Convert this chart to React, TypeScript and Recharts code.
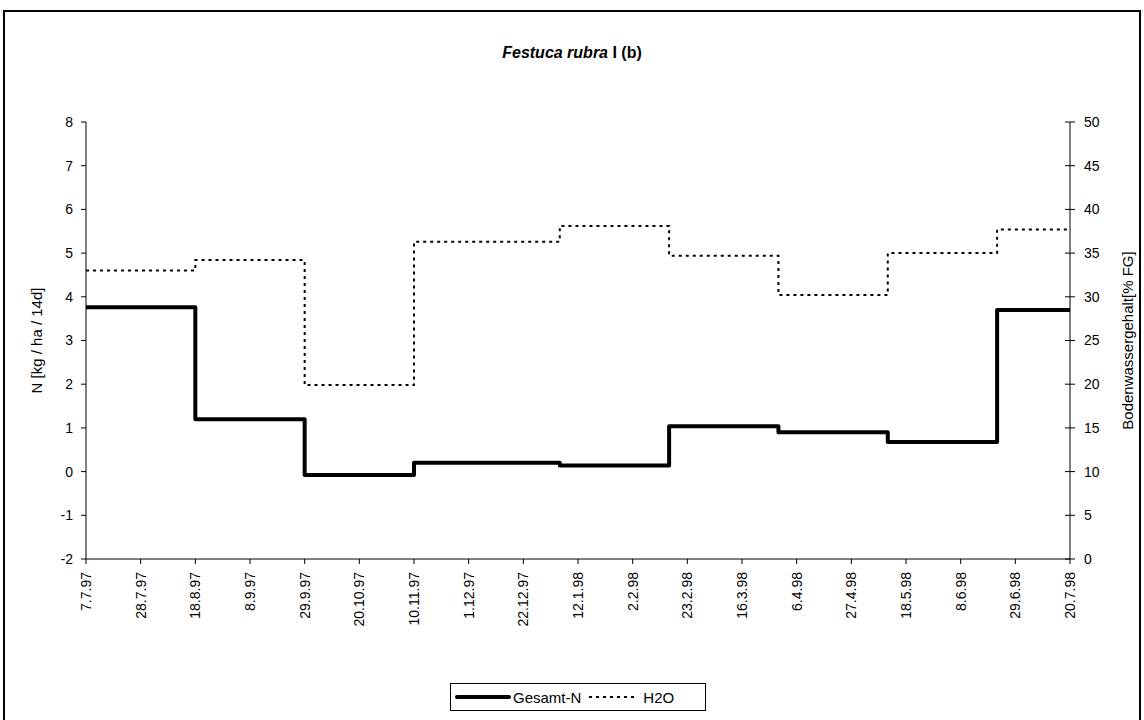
import { Line, LineChart, XAxis, YAxis, Label } from "recharts";

// x axis tick dates (every 3 weeks)
const tickDates = [
  "7.7.97", "28.7.97", "18.8.97", "8.9.97", "29.9.97", "20.10.97", "10.11.97",
  "1.12.97", "22.12.97", "12.1.98", "2.2.98", "23.2.98", "16.3.98", "6.4.98",
  "27.4.98", "18.5.98", "8.6.98", "29.6.98", "20.7.98",
];

// start dates of the sampling periods, last entry = end of the last period
const stepDates = [
  "7.7.97", "18.8.97", "29.9.97", "10.11.97", "5.1.98", "16.2.98", "30.3.98",
  "11.5.98", "22.6.98", "20.7.98",
];

const gesamtN = [3.76, 1.2, -0.08, 0.2, 0.14, 1.04, 0.9, 0.68, 3.7];
const h2o = [33.0, 34.2, 19.9, 36.3, 38.1, 34.7, 30.2, 35.0, 37.7];

const leftTicks = [-2, -1, 0, 1, 2, 3, 4, 5, 6, 7, 8];
const rightTicks = [0, 5, 10, 15, 20, 25, 30, 35, 40, 45, 50];

const FONT = "'Liberation Sans', Arial, sans-serif";
const TICK_FS = 14;

function dayOf(s: string): number {
  const [d, m, y] = s.split(".").map(Number);
  return Date.UTC(1900 + y, m - 1, d) / 86400000;
}

const base = dayOf(tickDates[0]);
const tickDays = tickDates.map((t) => dayOf(t) - base);
const labelByDay: Record<number, string> = {};
tickDays.forEach((d, i) => (labelByDay[d] = tickDates[i]));

const data = stepDates.map((s, i) => ({
  day: dayOf(s) - base,
  n: gesamtN[Math.min(i, gesamtN.length - 1)],
  h2o: h2o[Math.min(i, h2o.length - 1)],
}));

function DateTick(props: any) {
  const { x, y, payload } = props;
  return (
    <g transform={`translate(${x},${y})`}>
      <text
        transform="rotate(-90)"
        textAnchor="end"
        dy="0.35em"
        fontSize={TICK_FS}
        fontFamily={FONT}
        fill="#000"
      >
        {labelByDay[payload.value]}
      </text>
    </g>
  );
}

// right axis ticks cross the axis line
function RightTick(props: any) {
  const { x, y, payload } = props;
  const axisX = x - 14;
  return (
    <g>
      <line x1={axisX - 5} x2={axisX} y1={y} y2={y} stroke="#000" />
      <text x={x} y={y} dy="0.35em" textAnchor="start" fontSize={TICK_FS} fontFamily={FONT} fill="#000">
        {payload.value}
      </text>
    </g>
  );
}

export default function App() {
  return (
    <div
      style={{
        position: "absolute",
        left: 0,
        top: 0,
        width: 1144,
        height: 720,
        background: "#fff",
        fontFamily: FONT,
        overflow: "hidden",
      }}
    >
      <div
        style={{
          position: "absolute",
          left: 3,
          top: 10,
          width: 1138,
          height: 720,
          border: "2px solid #000",
          boxSizing: "border-box",
        }}
      />
      <div
        style={{
          position: "absolute",
          left: 0,
          top: 44,
          width: 1144,
          textAlign: "center",
          fontSize: 16,
          fontWeight: "bold",
          color: "#000",
        }}
      >
        <i>Festuca rubra</i> I (b)
      </div>
      <div style={{ position: "absolute", left: 0, top: 0 }}>
        <LineChart
          width={1144}
          height={720}
          data={data}
          margin={{ top: 122, right: 0, bottom: 0, left: 0 }}
        >
          <XAxis
            dataKey="day"
            type="number"
            domain={[0, tickDays[tickDays.length - 1]]}
            ticks={tickDays}
            interval={0}
            height={161}
            stroke="#000"
            tickSize={5}
            tickMargin={8}
            tick={<DateTick />}
          />
          <YAxis
            yAxisId="left"
            domain={[-2, 8]}
            ticks={leftTicks}
            interval={0}
            width={86}
            stroke="#000"
            tickSize={5}
            tickMargin={8}
            tick={{ fill: "#000", fontSize: TICK_FS, fontFamily: FONT }}
          >
            <Label
              value="N [kg / ha / 14d]"
              angle={-90}
              position="center"
              dx={-6}
              style={{ fontSize: 15, fontFamily: FONT, fill: "#000" }}
            />
          </YAxis>
          <YAxis
            yAxisId="right"
            orientation="right"
            domain={[0, 50]}
            ticks={rightTicks}
            interval={0}
            width={74}
            stroke="#000"
            tickSize={5}
            tickMargin={9}
            tick={<RightTick />}
          >
            <Label
              value="Bodenwassergehalt[% FG]"
              angle={-90}
              position="center"
              dx={21}
              style={{ fontSize: 15, fontFamily: FONT, fill: "#000" }}
            />
          </YAxis>
          <Line
            yAxisId="right"
            type="stepAfter"
            dataKey="h2o"
            stroke="#000"
            strokeWidth={2}
            strokeDasharray="3 4"
            dot={false}
            isAnimationActive={false}
          />
          <Line
            yAxisId="left"
            type="stepAfter"
            dataKey="n"
            stroke="#000"
            strokeWidth={4}
            strokeLinejoin="round"
            dot={false}
            isAnimationActive={false}
          />
        </LineChart>
      </div>
      <div
        style={{
          position: "absolute",
          left: 450,
          top: 683,
          width: 256,
          height: 28,
          border: "1px solid #000",
          boxSizing: "border-box",
          display: "flex",
          alignItems: "center",
          fontSize: 15,
          color: "#000",
        }}
      >
        <svg width={58} height={10} style={{ marginLeft: 4 }}>
          <line x1={2} x2={54} y1={5} y2={5} stroke="#000" strokeWidth={4} strokeLinecap="round" />
        </svg>
        <span>Gesamt-N</span>
        <svg width={54} height={10} style={{ marginLeft: 8 }}>
          <line x1={0} x2={46} y1={5} y2={5} stroke="#000" strokeWidth={2} strokeDasharray="3 4" />
        </svg>
        <span>H2O</span>
      </div>
    </div>
  );
}
